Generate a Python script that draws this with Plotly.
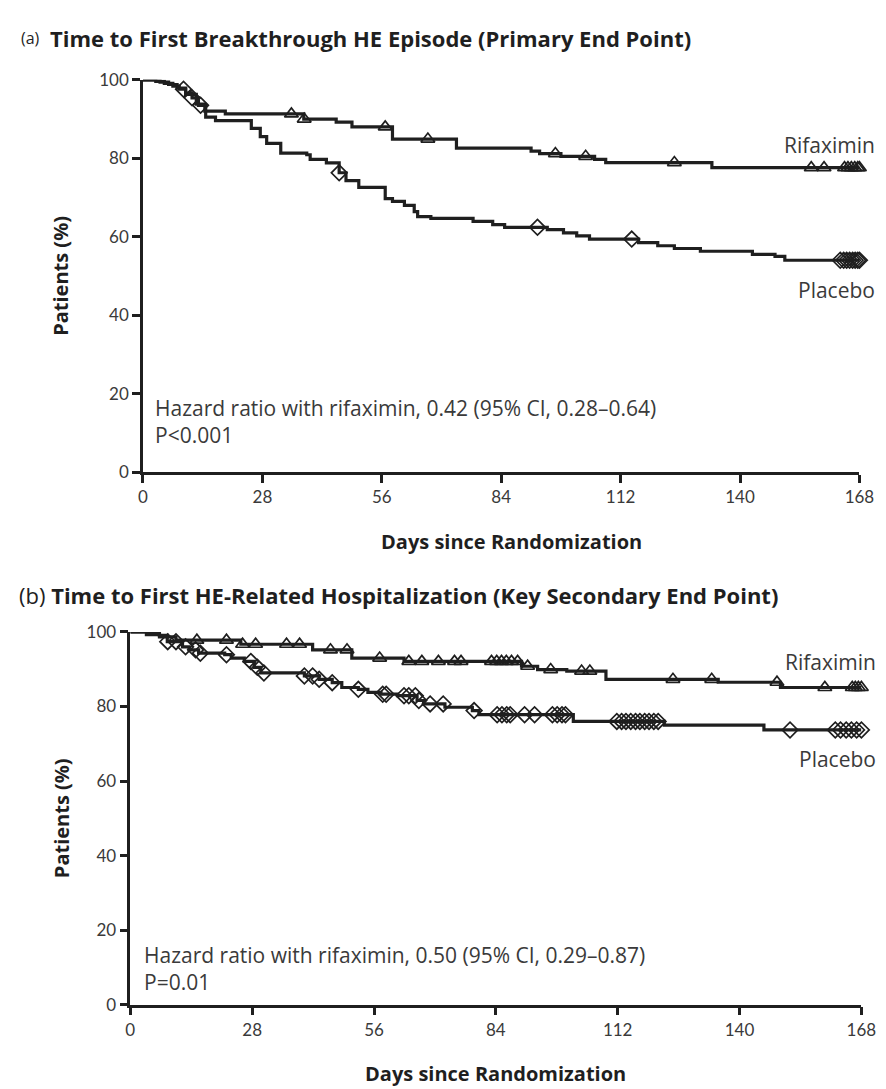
import plotly.graph_objects as go

# ---------------- data ----------------
# Panel (a): time to first breakthrough HE episode
a_rif_days = [0, 4, 6, 8, 10, 12.5, 14.5, 19.3, 37.7, 45.3, 49, 58.5, 73.5, 91, 93, 98, 105.9, 108.5, 133.4, 168]
a_rif_pct = [100, 99.4, 98.8, 97.9, 96.3, 93.8, 92.0, 91.3, 90.0, 89.2, 88.0, 84.9, 82.6, 81.8, 81.2, 80.5, 79.7, 78.9, 77.6, 77.6]
a_rif_cens = [34.8, 37.8, 56.8, 66.8, 96.7, 103.8, 124.6, 156.7, 159.7, 164.5, 165.3, 166.1, 166.9, 167.6, 168]

a_pla_days = [0, 3, 5, 7, 8.5, 10, 11.5, 13, 14.7, 17, 25.4, 27.5, 29, 32.3, 38.4, 39.2, 43, 46, 47.6, 50.6,
              56.8, 58.5, 61.3, 63.6, 64.4, 67.5, 77.4, 82, 84.8, 94.8, 98.6, 101.7, 104.7, 116.2, 120.7,
              124.6, 130.7, 142.9, 148.2, 150.5, 168]
a_pla_pct = [100, 99.6, 99.1, 98.4, 97.6, 96.6, 95.4, 93.5, 90.5, 89.6, 87.6, 85.5, 83.8, 81.3, 80.9, 79.7, 78.8, 76.3, 74.3, 72.6,
             69.7, 69.0, 68.0, 66.4, 65.1, 64.7, 63.9, 63.1, 62.4, 61.8, 61.0, 60.2, 59.4, 58.5, 57.7,
             57.0, 56.3, 55.5, 55.0, 54.0, 54.0]
a_pla_cens = [9.5, 11.5, 13.5, 46, 92.5, 114.6, 163.5, 164.3, 165, 165.7, 166.4, 167, 167.6, 168]

# Panel (b): time to first HE-related hospitalization
b_rif_days = [0, 3.7, 6.7, 10.5, 25.4, 41.9, 50.9, 62.9, 89.9, 93.6, 100.3, 109.3, 135.1, 149.4, 168]
b_rif_pct = [100, 99.3, 98.7, 97.8, 96.7, 95.2, 93.0, 92.1, 90.8, 89.9, 89.5, 87.3, 86.5, 85.1, 85.1]
b_rif_cens = [15.3, 22.1, 25.8, 28.8, 35.9, 38.9, 46, 49.8, 57.3, 64, 67, 70.8, 74.5, 76, 83, 84.2, 85.3, 86.4,
              87.6, 89, 91.3, 96.6, 103.7, 105.6, 124.7, 133.6, 148.6, 159.6, 165.9, 166.6, 167.3, 168]

b_pla_days = [0, 4, 6.7, 8.5, 12, 13.5, 15.7, 21.7, 23.2, 26.2, 28.5, 30, 40, 43.4, 46.4, 48.6, 52.4, 54.6,
              57.6, 61.4, 65.9, 67.4, 72.3, 78.6, 80.1, 101.8, 122.7, 145.6, 168]
b_pla_pct = [100, 99.6, 99.1, 97.4, 96.0, 95.2, 94.3, 93.9, 93.0, 92.1, 90.5, 89.0, 88.2, 87.3, 86.4, 85.1, 84.6, 83.8,
             83.3, 82.9, 81.6, 80.7, 79.8, 78.9, 77.8, 76.0, 75.0, 73.7, 73.7]
b_pla_cens = [8.6, 10.5, 12.7, 15, 16.1, 22.1, 27.7, 29.2, 30.7, 40, 41.9, 43.4, 46.4, 52.4, 58, 58.8, 62.9, 64,
              65.5, 66.3, 68.9, 71.9, 79, 84.3, 85.4, 86.5, 87.3, 90.6, 92.9, 97, 98.1, 99.2, 100,
              111.8, 112.9, 113.9, 115, 116.1, 117.1, 118.2, 119.2, 120.3, 121.3, 151.6, 162, 163.2, 164.5,
              165.7, 166.9, 168]

x_ticks = [0, 28, 56, 84, 112, 140, 168]
y_ticks = [0, 20, 40, 60, 80, 100]

FONT = "Open Sans"
TICKFONT = "Lato"
INK = "#1f1f1f"
TXT = "#3a3a3a"


def step_value(days, pct, t):
    v = pct[0]
    for d, p in zip(days, pct):
        if d <= t:
            v = p
    return v


fig = go.Figure()


def add_curve(days, pct, cens, symbol, xa, ya):
    fig.add_trace(go.Scatter(x=days, y=pct, mode="lines", line=dict(shape="hv", color=INK, width=3.2),
                             xaxis=xa, yaxis=ya, showlegend=False, hoverinfo="skip", cliponaxis=False))
    fig.add_trace(go.Scatter(x=cens, y=[step_value(days, pct, t) for t in cens], mode="markers",
                             marker=dict(symbol=symbol, size=12, color=INK, line=dict(width=1.7, color=INK)),
                             xaxis=xa, yaxis=ya, showlegend=False, hoverinfo="skip", cliponaxis=False))


add_curve(a_rif_days, a_rif_pct, a_rif_cens, "triangle-up-open", "x", "y")
add_curve(a_pla_days, a_pla_pct, a_pla_cens, "diamond-open", "x", "y")
add_curve(b_rif_days, b_rif_pct, b_rif_cens, "triangle-up-open", "x2", "y2")
add_curve(b_pla_days, b_pla_pct, b_pla_cens, "diamond-open", "x2", "y2")

W, H = 886, 1089


def px(x):
    return x / W


def py(y):
    return 1 - y / H


axis_common = dict(showline=True, linecolor=INK, linewidth=2.5, ticks="outside", ticklen=8,
                   tickwidth=2.5, tickcolor=INK, showgrid=False, zeroline=False,
                   tickfont=dict(family=TICKFONT, size=17, color=TXT))

fig.update_layout(
    width=W, height=H, margin=dict(l=0, r=0, t=0, b=0),
    paper_bgcolor="white", plot_bgcolor="white",
    xaxis=dict(domain=[px(133), px(866)], range=[0, 168], tickvals=x_ticks, anchor="y", **axis_common),
    yaxis=dict(domain=[py(462), py(62)], range=[0, 100], tickvals=y_ticks, anchor="x", **axis_common),
    xaxis2=dict(domain=[px(120), px(868)], range=[0, 168], tickvals=x_ticks, anchor="y2", **axis_common),
    yaxis2=dict(domain=[py(1005), py(625)], range=[0, 100], tickvals=y_ticks, anchor="x2", **axis_common),
)

ann = []
title_font = dict(family=FONT, size=22, color=INK)
axis_title_font = dict(family=FONT, size=20, color=INK)
# panel titles
ann.append(dict(text="(a)", x=px(6), y=py(19), xanchor="left", yanchor="middle",
                font=dict(family=FONT, size=16, color=INK)))
ann.append(dict(text="<b>Time to First Breakthrough HE Episode (Primary End Point)</b>", x=px(36), y=py(19),
                xanchor="left", yanchor="middle", font=title_font))
ann.append(dict(text="(b) <b>Time to First HE-Related Hospitalization (Key Secondary End Point)</b>",
                x=px(4), y=py(587), xanchor="left", yanchor="middle", font=title_font))
# axis titles
for yc in (262, 815):
    ann.append(dict(text="<b>Patients (%)</b>", x=px(49), y=py(yc), textangle=-90, xanchor="center",
                    yanchor="middle", font=axis_title_font))
ann.append(dict(text="<b>Days since Randomization</b>", x=px(510), y=py(533), xanchor="center",
                yanchor="middle", font=axis_title_font))
ann.append(dict(text="<b>Days since Randomization</b>", x=px(494), y=py(1075), xanchor="center",
                yanchor="middle", font=axis_title_font))
for a in ann:
    a.update(xref="paper", yref="paper", showarrow=False)

txt = dict(family=FONT, size=21, color=TXT)
data_ann = [
    dict(text="Hazard ratio with rifaximin, 0.42 (95% CI, 0.28\u20130.64)<br>P<0.001", x=2.4, y=13,
         xref="x", yref="y", xanchor="left", yanchor="middle", align="left"),
    dict(text="Hazard ratio with rifaximin, 0.50 (95% CI, 0.29\u20130.87)<br>P=0.01", x=2.6, y=9.8,
         xref="x2", yref="y2", xanchor="left", yanchor="middle", align="left"),
    dict(text="Rifaximin", x=px(884), y=83.5, xref="paper", yref="y", xanchor="right", yanchor="middle"),
    dict(text="Placebo", x=px(884), y=46.5, xref="paper", yref="y", xanchor="right", yanchor="middle"),
    dict(text="Rifaximin", x=px(885), y=92, xref="paper", yref="y2", xanchor="right", yanchor="middle"),
    dict(text="Placebo", x=px(885), y=66, xref="paper", yref="y2", xanchor="right", yanchor="middle"),
]
for a in data_ann:
    a.update(showarrow=False, font=txt)
    ann.append(a)

fig.update_layout(annotations=ann)
fig.write_html("out.html")
